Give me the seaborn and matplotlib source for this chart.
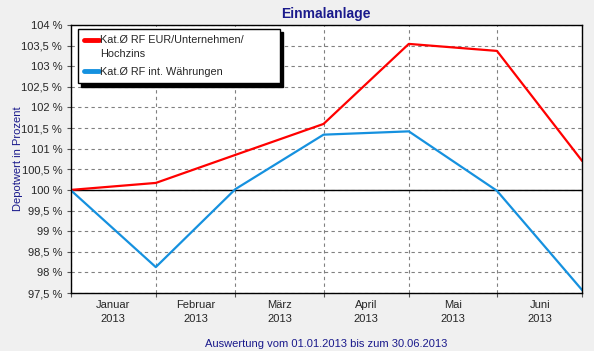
import pandas as pd
import matplotlib
matplotlib.use('Agg')
import matplotlib.pyplot as plt
import matplotlib.dates as mdates
import seaborn as sns

# Daten
datum = ['2013-01-01', '2013-01-31', '2013-02-28', '2013-03-31',
         '2013-04-30', '2013-05-31', '2013-06-30']
eur_unternehmen = [100.0, 100.17, 100.85, 101.60, 103.54, 103.37, 100.70]
int_waehrungen = [100.0, 98.13, 100.02, 101.34, 101.42, 99.98, 97.57]

serien = ['Kat.Ø RF EUR/Unternehmen/\nHochzins', 'Kat.Ø RF int. Währungen']
farben = ['#FF0000', '#1591DF']
monate = ['Januar\n2013', 'Februar\n2013', 'März\n2013', 'April\n2013', 'Mai\n2013', 'Juni\n2013']

df = pd.DataFrame({'Datum': pd.to_datetime(datum),
                   serien[0]: eur_unternehmen,
                   serien[1]: int_waehrungen})
df_long = df.melt(id_vars='Datum', var_name='Serie', value_name='Wert')

sns.set_style('white')
plt.rcParams['font.family'] = ['Liberation Sans', 'DejaVu Sans']

fig = plt.figure(figsize=(5.94, 3.51), dpi=100, facecolor='#F0F0F0')
ax = fig.add_axes([0.1187, 0.165, 0.8615, 0.764])
ax.set_facecolor('white')

sns.lineplot(data=df_long, x='Datum', y='Wert', hue='Serie',
             palette=dict(zip(serien, farben)), linewidth=1.6, ax=ax)

# Achsen
ax.set_xlim(df['Datum'].iloc[0], df['Datum'].iloc[-1])
ax.set_ylim(97.5, 104)
grenzen = mdates.date2num(df['Datum'])
mitten = (grenzen[:-1] + grenzen[1:]) / 2
ax.set_xticks(grenzen)
ax.set_xticklabels([])
ax.set_xticks(mitten, minor=True)
ax.set_xticklabels(monate, minor=True, fontsize=8, linespacing=1.45)
ax.tick_params(axis='x', which='major', direction='out', length=3, width=0.8, color='#555555', bottom=True)
ax.tick_params(axis='x', which='minor', length=0, pad=5)

yticks = [97.5 + 0.5 * i for i in range(14)]
ax.set_yticks(yticks)
ax.set_yticklabels([f'{v:g} %'.replace('.', ',') for v in yticks], fontsize=8)
ax.tick_params(axis='y', direction='out', length=3, width=0.8, color='#555555', left=True, pad=3)

ax.grid(True, which='major', color='#808080', linestyle=(0, (3, 3)), linewidth=0.8)
ax.set_axisbelow(True)
ax.axhline(100, color='black', linewidth=1, zorder=1.5)

for s in ax.spines.values():
    s.set_color('black')
    s.set_linewidth(1)

ax.set_title('Einmalanlage', fontsize=10, fontweight='bold', color='#1A1A8C', pad=5)
ax.set_ylabel('Depotwert in Prozent', fontsize=8, color='#1A1A8C', labelpad=-1)
ax.set_xlabel('Auswertung vom 01.01.2013 bis zum 30.06.2013', fontsize=8, color='#1A1A8C', labelpad=11)

leg = ax.legend(loc='upper left', bbox_to_anchor=(0.0137, 0.985, 0.395, 0.0), mode='expand',
                frameon=True, fancybox=False,
                shadow={'color': 'black', 'alpha': 1, 'ox': 2.5, 'oy': -2.5}, edgecolor='black', fontsize=7.8,
                handlelength=1.4, handletextpad=0.1, borderpad=0.6, labelspacing=0.75,
                borderaxespad=0, title=None)
leg.get_frame().set_linewidth(1)
for text in leg.get_texts():
    text.set_linespacing(1.4)
linien = leg.get_lines()
for line in linien:
    line.set_linewidth(3.5)
# Handle an der ersten Textzeile ausrichten
linien[0].set_ydata([y + 5.3 for y in linien[0].get_ydata()])

plt.savefig('out.png', dpi=100, facecolor=fig.get_facecolor())
